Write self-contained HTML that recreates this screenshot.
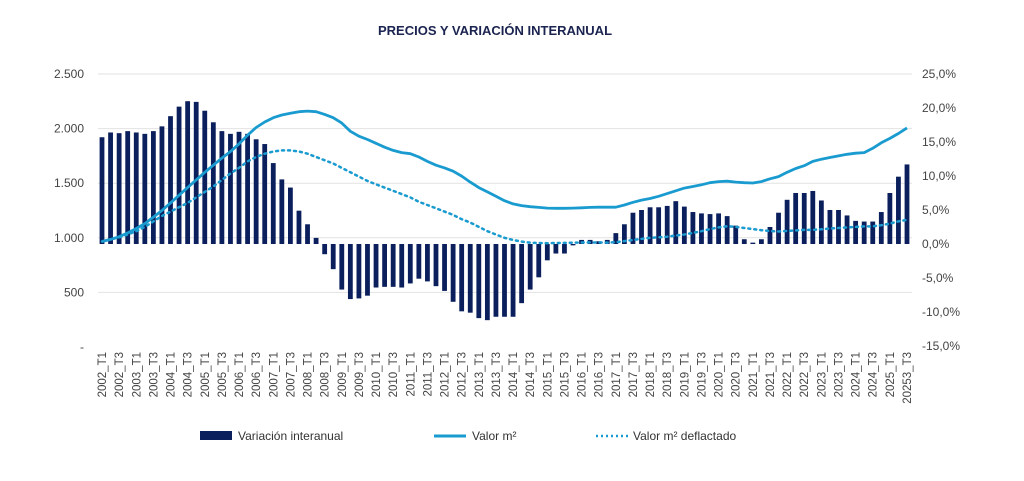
<!DOCTYPE html>
<html><head><meta charset="utf-8"><style>
body{margin:0;background:#fff;font-family:"Liberation Sans",sans-serif;}
svg text{font-family:"Liberation Sans",sans-serif;}
</style></head><body>
<svg width="1024" height="476" viewBox="0 0 1024 476" xmlns="http://www.w3.org/2000/svg">
<text x="495" y="35" text-anchor="middle" font-size="13" font-weight="bold" fill="#1b2450">PRECIOS Y VARIACIÓN INTERANUAL</text>
<g id="grid"></g><g id="bars"></g><g id="lines"></g><g id="axes"></g>
<g>
<rect x="200" y="431" width="32" height="9" fill="#0a1f5c"/>
<text x="238" y="440" font-size="12" fill="#333">Variación interanual</text>
<line x1="434" y1="436" x2="466" y2="436" stroke="#1a9bd0" stroke-width="3"/>
<text x="472" y="440" font-size="12" fill="#333">Valor m²</text>
<line x1="596" y1="436" x2="628" y2="436" stroke="#1a9bd0" stroke-width="2.5" stroke-dasharray="2,3"/>
<text x="633" y="440" font-size="12" fill="#333">Valor m² deflactado</text>
</g>
</svg>
<script>
const variacion=[15.7,16.4,16.3,16.6,16.4,16.2,16.6,17.3,18.8,20.2,21.0,20.9,19.6,17.9,16.6,16.2,16.5,16.2,15.4,14.7,11.9,9.5,8.3,4.9,2.9,0.9,-1.5,-3.7,-6.7,-8.1,-8.0,-7.6,-6.4,-6.3,-6.3,-6.4,-5.8,-5.1,-5.5,-6.2,-6.9,-8.5,-9.9,-10.1,-10.9,-11.2,-10.7,-10.7,-10.7,-8.7,-6.7,-4.9,-2.4,-1.4,-1.4,-0.2,0.6,0.6,0.4,0.6,1.6,2.9,4.6,5.0,5.4,5.4,5.6,6.3,5.5,4.7,4.5,4.4,4.5,4.1,2.7,0.7,0.2,0.7,2.5,4.6,6.5,7.5,7.5,7.8,6.4,5.0,5.0,4.2,3.4,3.3,3.3,4.7,7.5,9.9,11.7];
const valor=[966,985,1010,1045,1085,1130,1190,1250,1320,1390,1460,1530,1600,1665,1730,1790,1860,1940,2010,2060,2100,2125,2140,2155,2160,2155,2130,2100,2050,1975,1930,1900,1865,1830,1800,1780,1770,1740,1700,1665,1640,1610,1565,1510,1460,1420,1380,1340,1310,1295,1285,1278,1272,1270,1270,1272,1275,1278,1280,1280,1280,1300,1325,1345,1360,1380,1405,1430,1455,1470,1485,1505,1515,1518,1510,1505,1502,1515,1540,1560,1600,1635,1660,1700,1720,1735,1750,1765,1775,1780,1820,1870,1910,1955,2006];
const deflactado=[966,985,1005,1030,1060,1100,1150,1200,1240,1280,1320,1370,1420,1470,1530,1590,1640,1700,1740,1770,1790,1800,1800,1790,1770,1740,1710,1680,1640,1600,1560,1520,1490,1460,1430,1400,1370,1330,1300,1270,1240,1210,1170,1140,1100,1060,1030,1000,980,965,955,952,951,952,953,955,957,958,957,956,960,970,980,990,1000,1005,1010,1020,1030,1045,1060,1080,1095,1105,1100,1090,1080,1070,1062,1058,1062,1068,1072,1073,1078,1085,1090,1095,1100,1104,1105,1115,1130,1150,1165];
const leftTicks=[0,500,1000,1500,2000,2500];
const leftLabels=["-","500","1.000","1.500","2.000","2.500"];
const rightTicks=[-15,-10,-5,0,5,10,15,20,25];
const rightLabels=["-15,0%","-10,0%","-5,0%","0,0%","5,0%","10,0%","15,0%","20,0%","25,0%"];
const startYear=2002;

const NS="http://www.w3.org/2000/svg";
const n=variacion.length;
const x=i=>102+i*(907-102)/(n-1);
const yL=v=>347-(v/2500)*(347-74);
const yR=p=>244-(p/5)*34;
function mk(tag,attrs,parent){const e=document.createElementNS(NS,tag);for(const k in attrs)e.setAttribute(k,attrs[k]);parent.appendChild(e);return e;}
const grid=document.getElementById('grid'),bars=document.getElementById('bars'),lines=document.getElementById('lines'),axes=document.getElementById('axes');
leftTicks.forEach((t,i)=>{
  if(t>0){const l=mk('line',{x1:98,x2:912,y1:yL(t),y2:yL(t),stroke:'#e2e2e2','stroke-width':1},grid);
  
  }
  const tx=mk('text',{x:84,y:yL(t)+4,'text-anchor':'end','font-size':12,fill:'#444'},axes);tx.textContent=leftLabels[i];
  
  
});
rightTicks.forEach((t,i)=>{
  const tx=mk('text',{x:922,y:yR(t)+4,'font-size':12,fill:'#444'},axes);tx.textContent=rightLabels[i];
  
  
});
variacion.forEach((v,i)=>{
  const y0=yR(0),y1=yR(v);
  const r=mk('rect',{x:x(i)-2.4,y:Math.min(y0,y1),width:4.8,height:Math.max(0.8,Math.abs(y1-y0)),fill:'#0a1f5c'},bars);
  
  
});
function path(arr){return arr.map((v,i)=>(i?'L':'M')+x(i).toFixed(1)+','+yL(v).toFixed(1)).join('');}
const p1=mk('path',{d:path(valor),fill:'none',stroke:'#1a9bd0','stroke-width':2.8,'stroke-linejoin':'round'},lines);


const p2=mk('path',{d:path(deflactado),fill:'none',stroke:'#1a9bd0','stroke-width':2.5,'stroke-dasharray':'2,4','stroke-linecap':'round'},lines);


for(let i=0;i<n;i+=2){
  const yr=startYear+Math.floor(i/4);const q=(i%4===0)?'T1':'T3';
  let lab=yr+'_'+q; if(i===n-1) lab='20253_T3';
  const tx=mk('text',{x:0,y:0,'text-anchor':'end','font-size':11.5,fill:'#444',transform:`translate(${x(i)+4},352) rotate(-90)`},axes);
  tx.textContent=lab;
  
  
}
</script>
</body></html>
